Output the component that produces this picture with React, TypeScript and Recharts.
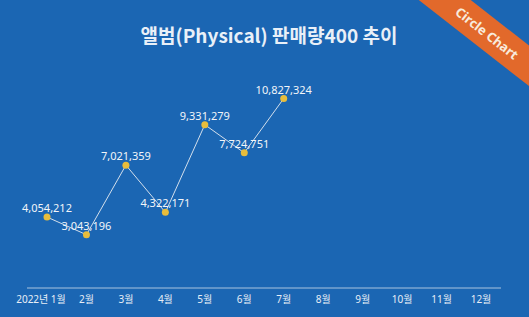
import React from "react";
import { LineChart, Line, XAxis, YAxis, LabelList } from "recharts";

const months = ["2022년 1월", "2월", "3월", "4월", "5월", "6월", "7월", "8월", "9월", "10월", "11월", "12월"];
const sales: (number | null)[] = [4054212, 3043196, 7021359, 4322171, 9331279, 7724751, 10827324, null, null, null, null, null];

const data = months.map((m, i) => ({ month: m, value: sales[i] }));

const BG = "#1b66b3";
const FONT = "'Noto Sans', 'Noto Sans CJK KR', sans-serif";

const fmt = (v: any) => (v == null ? "" : Number(v).toLocaleString("en-US"));

const Tick = (props: any) => {
  const { x, y, payload, index } = props;
  const dx = index === 0 ? -6 : 0;
  return (
    <text x={x + dx} y={y} dy="0.71em" textAnchor="middle" fill="#e8eef6" fontSize={10} fontFamily={FONT}>
      {payload.value}
    </text>
  );
};

export default function App() {
  return (
    <div
      style={{
        position: "fixed",
        left: 0,
        top: 0,
        width: 529,
        height: 317,
        background: BG,
        overflow: "hidden",
        fontFamily: FONT,
      }}
    >
      <div
        style={{
          position: "absolute",
          top: 22,
          left: 0,
          width: 538,
          textAlign: "center",
          color: "#e9f0f8",
          fontSize: 19,
          fontWeight: 700,
          fontFamily: "'Noto Sans CJK KR', 'Noto Sans', sans-serif",
          lineHeight: "26px",
        }}
      >
        앨범(Physical) 판매량400 추이
      </div>
      <div
        style={{
          position: "absolute",
          left: 487 - 110,
          top: 33 - 16,
          width: 220,
          height: 32,
          background: "#e2692b",
          transform: "rotate(38deg)",
          color: "#f8ebdc",
          fontSize: 13,
          fontWeight: 700,
          textAlign: "center",
          lineHeight: "32px",
          fontFamily: "'Noto Sans', sans-serif",
        }}
      >
        Circle Chart
      </div>
      <div style={{ position: "absolute", left: 0, top: 0 }}>
        <LineChart width={529} height={317} data={data} margin={{ top: 78, right: 28, bottom: 8, left: 27 }}>
          <XAxis
            dataKey="month"
            height={21}
            interval={0}
            tickLine={false}
            tickSize={6}
            padding={{ left: 20, right: 20 }}
            axisLine={{ stroke: "#a9c3df", strokeWidth: 1 }}
            tick={<Tick />}
          />
          <YAxis hide domain={[0, 12000000]} />
          <Line
            type="linear"
            dataKey="value"
            stroke="#d3dfec"
            strokeWidth={1}
            dot={{ r: 3.5, fill: "#e8bd3c", stroke: "none" }}
            connectNulls={false}
            isAnimationActive={false}
          >
            <LabelList
              dataKey="value"
              position="top"
              offset={5}
              formatter={fmt}
              fill="#f2f5f9"
              fontSize={11}
              fontFamily={FONT}
            />
          </Line>
        </LineChart>
      </div>
    </div>
  );
}
